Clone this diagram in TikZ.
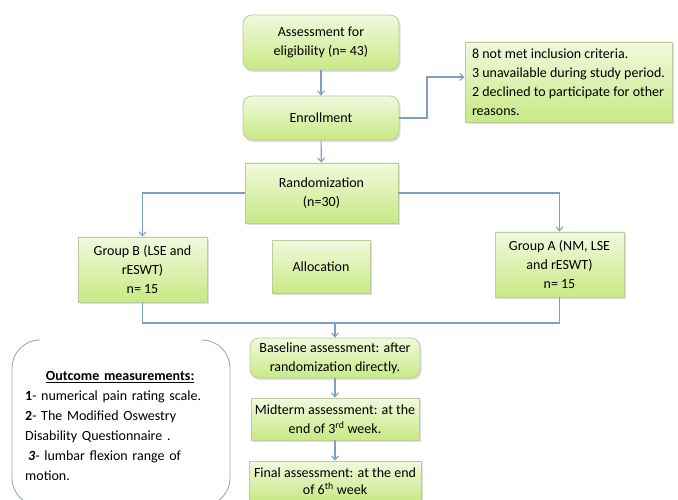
\documentclass[tikz,border=0pt]{standalone}
\usepackage{fontspec}
\setmainfont{Carlito}
\usetikzlibrary{arrows.meta,positioning,calc,shadows}
\definecolor{boxtop}{RGB}{241,249,222}
\definecolor{boxbot}{RGB}{200,233,132}
\definecolor{boxline}{RGB}{188,204,150}
\definecolor{linkc}{RGB}{128,158,196}
\definecolor{bracketc}{RGB}{150,170,200}
\tikzset{
  flowbox/.style={draw=boxline, line width=0.8pt, top color=boxtop, bottom color=boxbot,
    align=center, inner sep=2pt, font=\fontsize{14}{19}\selectfont,
    drop shadow={shadow xshift=1.5pt, shadow yshift=-2pt, opacity=0.25}},
  roundbox/.style={flowbox, rounded corners=9pt},
  link/.style={draw=linkc, line width=1.1pt},
}

\begin{document}
\begin{tikzpicture}[x=1pt, y=-1pt, >={Straight Barb[length=4pt,width=7pt]}]
  \useasboundingbox (0,0) rectangle (678,500);
  \clip (0,0) rectangle (678,500);

  % Define nodes
  \node[roundbox, minimum width=156pt, minimum height=55pt] (assess) at (321, 42.5) {Assessment for\\eligibility (n= 43)};
  \node[roundbox, minimum width=156pt, minimum height=44pt] (enroll) at (321, 118) {Enrollment};
  \node[flowbox, minimum width=207pt, minimum height=80pt, align=left] (excl) at (568.5, 82)
    {8 not met inclusion criteria.\\3 unavailable during study period.\\2 declined to participate for other\\reasons.};
  \node[flowbox, minimum width=153pt, minimum height=60pt] (random) at (321.5, 193) {Randomization\\(n=30)};
  \node[flowbox, minimum width=129pt, minimum height=65pt] (groupB) at (142.5, 269.5) {Group B (LSE and\\rESWT)\\n= 15};
  \node[flowbox, minimum width=98pt, minimum height=53pt] (alloc) at (321, 266.5) {Allocation};
  \node[flowbox, minimum width=129pt, minimum height=65pt] (groupA) at (559.5, 264.5) {Group A (NM, LSE\\and rESWT)\\n= 15};
  \node[roundbox, minimum width=170pt, minimum height=40pt] (base) at (335, 358) {Baseline assessment: after\\randomization directly.};
  \node[flowbox, minimum width=168pt, minimum height=42pt] (mid) at (335, 419) {Midterm assessment: at the\\end of 3\textsuperscript{rd} week.};
  \node[flowbox, minimum width=172pt, minimum height=40pt, font=\fontsize{14}{17}\selectfont] (final) at (335, 481) {Final assessment: at the end\\of 6\textsuperscript{th} week};

  % Outcome bracket and its text
  \draw[bracketc, line width=0.9pt] (40,340) arc[start angle=270, end angle=180, radius=28] -- (12,478) arc[start angle=180, end angle=90, radius=28];
  \draw[bracketc, line width=0.9pt] (202,340) arc[start angle=270, end angle=360, radius=28] -- (230,478) arc[start angle=0, end angle=90, radius=28];
  \node[anchor=north west, inner sep=0pt, text width=190pt, align=left, font=\fontsize{14}{20}\selectfont] (outcome) at (25, 371)
    {\makebox[190pt]{\underline{\textbf{Outcome measurements:}}}\\
     \textbf{1}- numerical pain rating scale.\\
     \textbf{2}- The Modified Oswestry\\
     Disability Questionnaire .\\
     \hspace{3pt}\textbf{\textit{3}}- lumbar flexion range of\\
     motion.};

  % Draw arrows
  \coordinate (e1) at (427, 77);
  \coordinate (j1) at (335, 323);
  \draw[link, ->] (assess) -- (enroll);
  \draw[link, ->] (enroll.east) -| (e1) -- (e1 -| excl.west);
  \draw[link, ->] (enroll) -- (random);
  \draw[link, ->] (random.west) -| (groupB.north);
  \draw[link, ->] (random.east) -| (groupA.north);
  \draw[link] (groupB.south) |- (j1) -| (groupA.south);
  \draw[link, ->] (j1) -- (base.north);
  \draw[link, ->] (base) -- (mid);
  \draw[link, ->] (mid) -- (final);
\end{tikzpicture}
\end{document}
